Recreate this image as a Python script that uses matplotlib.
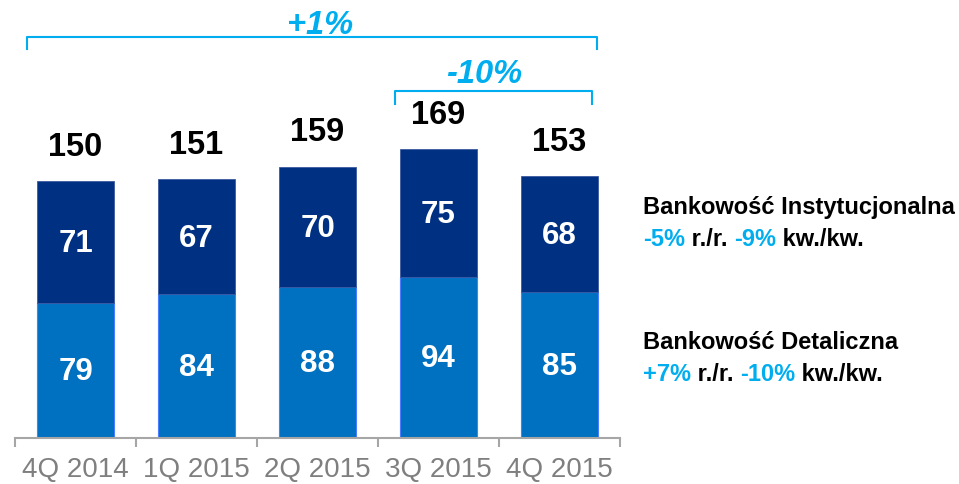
import matplotlib.pyplot as plt
import numpy as np

plt.rcParams['font.family'] = ['Liberation Sans', 'DejaVu Sans']

# data
quarters = ['4Q 2014', '1Q 2015', '2Q 2015', '3Q 2015', '4Q 2015']
retail = [79, 84, 88, 94, 85]
institutional = [71, 67, 70, 75, 68]
totals = [150, 151, 159, 169, 153]

DARK = '#003082'
LIGHT = '#0070C0'
CYAN = '#00AEEF'
GRAY = '#7f7f7f'

fig = plt.figure(figsize=(9.59, 4.84), dpi=100)
ax = fig.add_axes([15 / 959, 46 / 484, 605 / 959, 438 / 484])

x = np.arange(len(quarters))
ax.bar(x, retail, width=0.64, color=LIGHT, edgecolor='#4a7dff', linewidth=0.8)
ax.bar(x, institutional, width=0.64, bottom=retail, color=DARK,
       edgecolor='#3a5aa0', linewidth=0.6)

for i in x:
    ax.text(i, retail[i] / 2 - 1, str(retail[i]), ha='center', va='center',
            color='white', fontsize=22.5, fontweight='bold')
    ax.text(i, retail[i] + institutional[i] / 2 - 1, str(institutional[i]),
            ha='center', va='center', color='white', fontsize=22.5, fontweight='bold')
    ax.annotate(str(totals[i]), (i, totals[i]), xytext=(0, 13),
                textcoords='offset points', ha='center', va='bottom',
                fontsize=23.5, fontweight='bold', color='black')

ax.set_xlim(-0.5, len(quarters) - 0.5)
ax.set_ylim(0, 255.8)

for s in ['top', 'right', 'left']:
    ax.spines[s].set_visible(False)
ax.spines['bottom'].set_color('#a6a6a6')
ax.spines['bottom'].set_linewidth(1.5)
ax.set_yticks([])
ax.set_xticks(x)
ax.set_xticklabels(quarters, fontsize=20, color=GRAY)
ax.tick_params(axis='x', which='major', length=0, pad=14)
ax.set_xticks(np.arange(-0.5, len(quarters)), minor=True)
ax.tick_params(axis='x', which='minor', length=6.5, width=1.5, color='#a6a6a6')


def bracket(x0, x1, y, leg, label, tx, ty):
    ax.plot([x0, x0, x1, x1], [y - leg, y, y, y - leg], color=CYAN, lw=1.5,
            clip_on=False, solid_joinstyle='round')
    ax.text(tx, ty, label, ha='center', va='center', color=CYAN,
            fontsize=23.5, fontweight='bold', fontstyle='italic')


# yoy and qoq brackets
bracket(-0.40, len(quarters) - 1 + 0.31, 234.2, 7, '+1%', 2.02, 240.8)
bracket(3 - 0.36, 4 + 0.27, 202.7, 7.6, '-10%', 3.38, 212.3)


def rich_line(xf, yf, parts):
    prev = None
    for txt, col in parts:
        if prev is None:
            prev = fig.text(xf, yf, txt, color=col, fontsize=17,
                            fontweight='bold', va='baseline', ha='left')
        else:
            prev = ax.annotate(txt, xy=(1, 0), xycoords=prev, xytext=(0, 0),
                               textcoords='offset points', color=col, fontsize=17,
                               fontweight='bold', va='bottom', ha='left')


lx = 643 / 959
rich_line(lx, 1 - 214 / 484, [('Bankowość Instytucjonalna', 'black')])
rich_line(lx, 1 - 246 / 484, [('-5%', CYAN), (' r./r. ', 'black'),
                              ('-9%', CYAN), (' kw./kw.', 'black')])
rich_line(lx, 1 - 349 / 484, [('Bankowość Detaliczna', 'black')])
rich_line(lx, 1 - 381 / 484, [('+7%', CYAN), (' r./r. ', 'black'),
                              ('-10%', CYAN), (' kw./kw.', 'black')])

fig.savefig('out.png', dpi=100)
